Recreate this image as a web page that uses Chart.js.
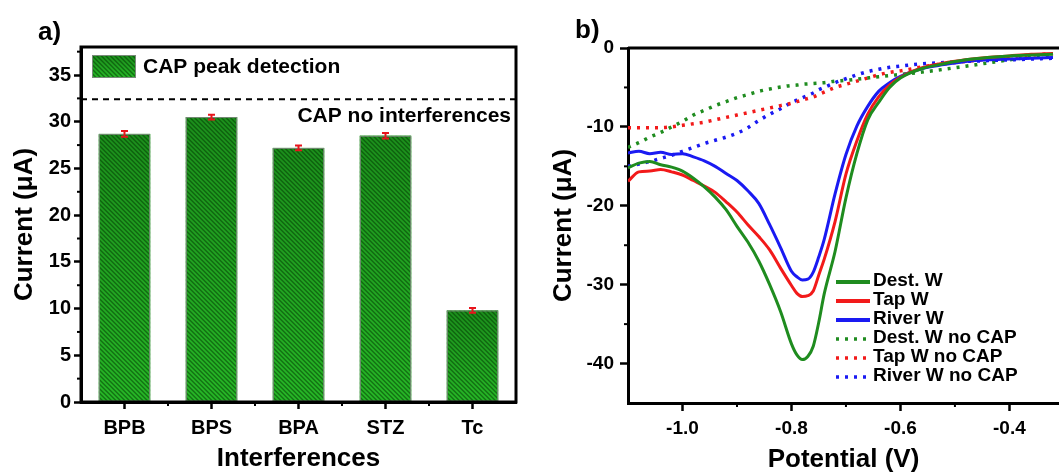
<!DOCTYPE html>
<html>
<head>
<meta charset="utf-8">
<title>CAP interferences and real water samples</title>
<script src="https://cdn.jsdelivr.net/npm/chart.js@4.4.1/dist/chart.umd.min.js"></script>
<style>
  body { margin: 0; background: #fff; }
  #wrap { position: relative; width: 1059px; height: 475px; overflow: hidden; }
  #barCanvas { position: absolute; left: 0; top: 0; }
  #lineCanvas { position: absolute; left: 530px; top: 0; }
</style>
</head>
<body>
<div id="wrap">
  <canvas id="barCanvas" width="530" height="475"></canvas>
  <canvas id="lineCanvas" width="529" height="475"></canvas>
</div>
<script>
// panel a) - peak current of CAP with each interferent
const interferents = ['BPB', 'BPS', 'BPA', 'STZ', 'Tc'];
const peakCurrent = [28.7, 30.5, 27.2, 28.5, 9.8];
const peakError = [0.3, 0.25, 0.25, 0.3, 0.25];
const capNoInterferences = 32.4;
const barYTicks = [0, 5, 10, 15, 20, 25, 30, 35];
const barYMinor = [2.5, 7.5, 12.5, 17.5, 22.5, 27.5, 32.5, 37.5];

// panel b) - DPV in real samples (potential in V, current in uA)
const potential = [-1.10, -1.08, -1.06, -1.04, -1.02, -1.00, -0.98, -0.96, -0.94, -0.92, -0.90, -0.88,
    -0.86, -0.84, -0.82, -0.80, -0.79, -0.78, -0.77, -0.76, -0.75, -0.74, -0.72, -0.70, -0.68, -0.66,
    -0.64, -0.62, -0.60, -0.56, -0.52, -0.48, -0.44, -0.40, -0.36, -0.32];
const destW = [-15.2, -14.6, -14.4, -14.8, -15.1, -15.6, -16.5, -17.6, -18.9, -20.5, -22.6, -24.6,
    -27.0, -30.0, -33.4, -37.5, -38.9, -39.5, -39.1, -37.8, -34.8, -31.2, -25.8, -19.0, -13.4, -9.1,
    -6.9, -5.0, -3.8, -2.6, -2.0, -1.5, -1.2, -1.0, -0.9, -0.8];
const tapW = [-16.9, -15.7, -15.6, -15.4, -15.7, -16.1, -16.8, -17.5, -18.3, -19.5, -20.8, -22.4,
    -23.9, -25.6, -27.9, -30.1, -31.1, -31.5, -31.4, -30.8, -28.8, -26.8, -22.0, -16.0, -11.8, -8.4,
    -6.2, -4.7, -3.7, -2.5, -1.9, -1.5, -1.2, -1.0, -0.8, -0.7];
const riverW = [-13.3, -13.1, -13.4, -13.2, -13.5, -13.4, -13.8, -14.3, -15.0, -15.9, -16.8, -18.1,
    -19.7, -22.4, -25.3, -28.3, -29.0, -29.4, -29.3, -28.4, -26.5, -24.3, -18.5, -13.5, -9.9, -7.4,
    -5.5, -4.4, -3.6, -2.6, -2.1, -1.7, -1.5, -1.4, -1.3, -1.2];
const destWNoCap = [-12.6, -12.0, -11.3, -10.7, -10.0, -9.3, -8.5, -7.9, -7.3, -6.8, -6.3, -5.9,
    -5.5, -5.2, -4.95, -4.75, -4.7, -4.6, -4.55, -4.5, -4.45, -4.4, -4.2, -4.1, -3.95, -3.8,
    -3.65, -3.5, -3.35, -3.05, -2.7, -2.3, -1.9, -1.5, -1.15, -1.0];
const tapWNoCap = [-10.1, -10.1, -10.1, -10.1, -10.0, -9.8, -9.6, -9.4, -9.1, -8.8, -8.5, -8.2,
    -7.9, -7.6, -7.3, -7.0, -6.8, -6.6, -6.4, -6.2, -5.9, -5.6, -5.0, -4.6, -4.2, -3.8,
    -3.4, -3.1, -2.9, -2.4, -2.0, -1.7, -1.4, -1.1, -0.9, -0.7];
const riverWNoCap = [-15.0, -14.7, -14.4, -14.0, -13.6, -13.1, -12.6, -12.1, -11.7, -11.3, -10.8, -10.1,
    -9.2, -8.4, -7.7, -6.9, -6.6, -6.3, -6.0, -5.7, -5.3, -5.0, -4.4, -3.9, -3.4, -3.0,
    -2.7, -2.45, -2.3, -2.0, -1.85, -1.7, -1.6, -1.5, -1.4, -1.3];
const potentialTicks = [-1.0, -0.8, -0.6, -0.4];
const potentialMinor = [-0.9, -0.7, -0.5, -0.3];
const currentTicks = [-40, -30, -20, -10, 0];
const currentMinor = [-35, -25, -15, -5];

const FONT = "'Liberation Sans', Arial, Helvetica, sans-serif";
Chart.defaults.font.family = FONT;
Chart.defaults.font.weight = 'bold';
Chart.defaults.color = '#000';

function axisLines(tickLen) {
    return {
        grid: { drawOnChartArea: false, drawTicks: true, tickLength: tickLen, tickWidth: 2.5, tickColor: '#000' },
        border: { display: true, color: '#000', width: 3 }
    };
}

function drawMinorTicks(chart, axisId, values, len) {
    const scale = chart.scales[axisId];
    const area = chart.chartArea;
    const ctx = chart.ctx;
    ctx.save();
    ctx.strokeStyle = '#000';
    ctx.lineWidth = 2;
    values.forEach(v => {
        const p = scale.getPixelForValue(v);
        ctx.beginPath();
        if (axisId === 'x') {
            if (p < area.left || p > area.right) return;
            ctx.moveTo(p, area.bottom);
            ctx.lineTo(p, area.bottom + len);
        } else {
            if (p < area.top || p > area.bottom) return;
            ctx.moveTo(area.left, p);
            ctx.lineTo(area.left - len, p);
        }
        ctx.stroke();
    });
    ctx.restore();
}

// green bar fill with slightly darker top and diagonal hatch
function hatchBox(ctx, x, y, w, h) {
    ctx.save();
    ctx.fillStyle = '#27b827';
    ctx.fillRect(x, y, w, h);
    ctx.beginPath();
    ctx.rect(x, y, w, h);
    ctx.clip();
    const g = ctx.createLinearGradient(0, y, 0, y + h);
    g.addColorStop(0, 'rgba(0,40,0,0.28)');
    g.addColorStop(1, 'rgba(0,40,0,0)');
    ctx.fillStyle = g;
    ctx.fillRect(x, y, w, h);
    ctx.strokeStyle = 'rgba(0,50,0,0.5)';
    ctx.lineWidth = 1.4;
    for (let s = x - h; s < x + w; s += 4.5) {
        ctx.beginPath();
        ctx.moveTo(s, y);
        ctx.lineTo(s + h, y + h);
        ctx.stroke();
    }
    ctx.restore();
    ctx.save();
    ctx.strokeStyle = '#7a8a7a';
    ctx.lineWidth = 1;
    ctx.strokeRect(x + 0.5, y + 0.5, w - 1, h - 1);
    ctx.restore();
}

const barDecor = {
    id: 'barDecor',
    afterDatasetsDraw(chart) {
        const ctx = chart.ctx;
        const area = chart.chartArea;
        const yScale = chart.scales.y;
        const meta = chart.getDatasetMeta(0);
        meta.data.forEach((bar, i) => {
            hatchBox(ctx, bar.x - bar.width / 2, bar.y, bar.width, bar.base - bar.y);
            const top = yScale.getPixelForValue(peakCurrent[i] + peakError[i]);
            const bot = yScale.getPixelForValue(peakCurrent[i] - peakError[i]);
            ctx.save();
            ctx.strokeStyle = '#e8141c';
            ctx.lineWidth = 2;
            ctx.beginPath();
            ctx.moveTo(bar.x, top); ctx.lineTo(bar.x, bot);
            ctx.moveTo(bar.x - 3.5, top); ctx.lineTo(bar.x + 3.5, top);
            ctx.moveTo(bar.x - 3.5, bot); ctx.lineTo(bar.x + 3.5, bot);
            ctx.stroke();
            ctx.restore();
        });

        // reference line without interferences
        const yRef = yScale.getPixelForValue(capNoInterferences);
        ctx.save();
        ctx.strokeStyle = '#000';
        ctx.lineWidth = 2;
        ctx.setLineDash([6, 5]);
        ctx.beginPath();
        ctx.moveTo(area.left, yRef);
        ctx.lineTo(area.right, yRef);
        ctx.stroke();
        ctx.setLineDash([]);
        ctx.font = 'bold 21px ' + FONT;
        ctx.fillStyle = '#000';
        ctx.textAlign = 'right';
        ctx.textBaseline = 'middle';
        ctx.fillText('CAP no interferences', area.right - 5, yRef + 17);
        ctx.restore();

        // legend
        hatchBox(ctx, area.left + 11, area.top + 8, 44, 23);
        ctx.save();
        ctx.font = 'bold 21px ' + FONT;
        ctx.fillStyle = '#000';
        ctx.textBaseline = 'middle';
        ctx.fillText(chart.data.datasets[0].label, area.left + 62, area.top + 20);
        ctx.restore();
    },
    afterDraw(chart) {
        const ctx = chart.ctx;
        const area = chart.chartArea;
        ctx.save();
        ctx.strokeStyle = '#000';
        ctx.lineWidth = 3;
        ctx.strokeRect(area.left, area.top, area.right - area.left, area.bottom - area.top);
        ctx.restore();
        drawMinorTicks(chart, 'y', barYMinor, 4);
        drawMinorTicks(chart, 'x', interferents.slice(1).map((c, i) => i + 0.5), 4);
        ctx.save();
        ctx.font = 'bold 26px ' + FONT;
        ctx.fillStyle = '#000';
        ctx.textBaseline = 'alphabetic';
        ctx.fillText('a)', 38, 40);
        ctx.restore();
    }
};

new Chart(document.getElementById('barCanvas').getContext('2d'), {
    type: 'bar',
    data: {
        labels: interferents,
        datasets: [{
            label: 'CAP peak detection',
            data: peakCurrent,
            backgroundColor: '#27b827',
            borderWidth: 0,
            categoryPercentage: 1,
            barPercentage: 0.59
        }]
    },
    options: {
        responsive: false,
        animation: false,
        layout: { padding: { left: 0, top: 47, right: 14, bottom: 0 } },
        plugins: { legend: { display: false }, tooltip: { enabled: false } },
        scales: {
            x: {
                ...axisLines(7),
                grid: { ...axisLines(7).grid, offset: false },
                ticks: { font: { size: 20, weight: 'bold' }, padding: 7 },
                title: { display: true, text: 'Interferences', font: { size: 26, weight: 'bold' }, padding: { top: 0, bottom: 1 } },
                afterFit: s => { s.height = 73; }
            },
            y: {
                ...axisLines(7),
                min: 0,
                max: 38,
                afterBuildTicks: s => { s.ticks = barYTicks.map(v => ({ value: v })); },
                ticks: { font: { size: 20, weight: 'bold' }, padding: 3 },
                title: { display: true, text: 'Current (μA)', font: { size: 26, weight: 'bold' }, padding: { top: 9 } },
                afterFit: s => { s.width = 81; }
            }
        }
    },
    plugins: [barDecor]
});

// panel b)
const lineDecor = {
    id: 'lineDecor',
    afterDraw(chart) {
        const ctx = chart.ctx;
        const area = chart.chartArea;
        ctx.save();
        ctx.strokeStyle = '#000';
        ctx.lineWidth = 3;
        ctx.beginPath();
        ctx.moveTo(area.left, area.top);
        ctx.lineTo(chart.width, area.top);
        ctx.stroke();
        ctx.restore();
        drawMinorTicks(chart, 'y', currentMinor, 4);
        drawMinorTicks(chart, 'x', potentialMinor, 4);

        // legend inside the plot
        ctx.save();
        ctx.font = 'bold 19px ' + FONT;
        ctx.textBaseline = 'middle';
        chart.data.datasets.forEach((ds, i) => {
            const y = 281 + i * 19;
            ctx.strokeStyle = ds.borderColor;
            ctx.lineWidth = ds.borderDash ? 3.5 : 4;
            ctx.setLineDash(ds.borderDash || []);
            ctx.beginPath();
            ctx.moveTo(306, y + 1);
            ctx.lineTo(ds.borderDash ? 336 : 340, y + 1);
            ctx.stroke();
            ctx.fillStyle = '#000';
            ctx.fillText(ds.label, 343, y);
        });
        ctx.setLineDash([]);
        ctx.font = 'bold 26px ' + FONT;
        ctx.textBaseline = 'alphabetic';
        ctx.fillText('b)', 45, 38);
        ctx.restore();
    }
};

function series(label, values, color, dotted) {
    return {
        label: label,
        data: potential.map((p, i) => ({ x: p, y: values[i] })),
        borderColor: color,
        backgroundColor: color,
        borderWidth: dotted ? 3.5 : 3,
        borderDash: dotted ? [3, 6] : undefined,
        pointRadius: 0,
        fill: false,
        cubicInterpolationMode: 'monotone'
    };
}

new Chart(document.getElementById('lineCanvas').getContext('2d'), {
    type: 'line',
    data: {
        datasets: [
            series('Dest. W', destW, '#1f8c1f', false),
            series('Tap W', tapW, '#f21a1a', false),
            series('River W', riverW, '#1a1af2', false),
            series('Dest. W no CAP', destWNoCap, '#1f8c1f', true),
            series('Tap W no CAP', tapWNoCap, '#f21a1a', true),
            series('River W no CAP', riverWNoCap, '#1a1af2', true)
        ]
    },
    options: {
        responsive: false,
        animation: false,
        layout: { padding: { left: 0, top: 48, right: 0, bottom: 0 } },
        plugins: { legend: { display: false }, tooltip: { enabled: false } },
        scales: {
            x: {
                ...axisLines(8),
                type: 'linear',
                min: -1.1,
                max: -0.309,
                afterBuildTicks: s => { s.ticks = potentialTicks.map(v => ({ value: v })); },
                ticks: { font: { size: 19, weight: 'bold' }, padding: 6, callback: v => v.toFixed(1) },
                title: { display: true, text: 'Potential (V)', font: { size: 26, weight: 'bold' }, padding: { top: 0, bottom: 0 } },
                afterFit: s => { s.height = 72; }
            },
            y: {
                ...axisLines(8),
                min: -45,
                max: 0,
                afterBuildTicks: s => { s.ticks = currentTicks.map(v => ({ value: v })); },
                ticks: { font: { size: 19, weight: 'bold' }, padding: 6 },
                title: { display: true, text: 'Current (μA)', font: { size: 26, weight: 'bold' }, padding: { top: 18 } },
                afterFit: s => { s.width = 98; }
            }
        }
    },
    plugins: [lineDecor]
});
</script>
</body>
</html>
